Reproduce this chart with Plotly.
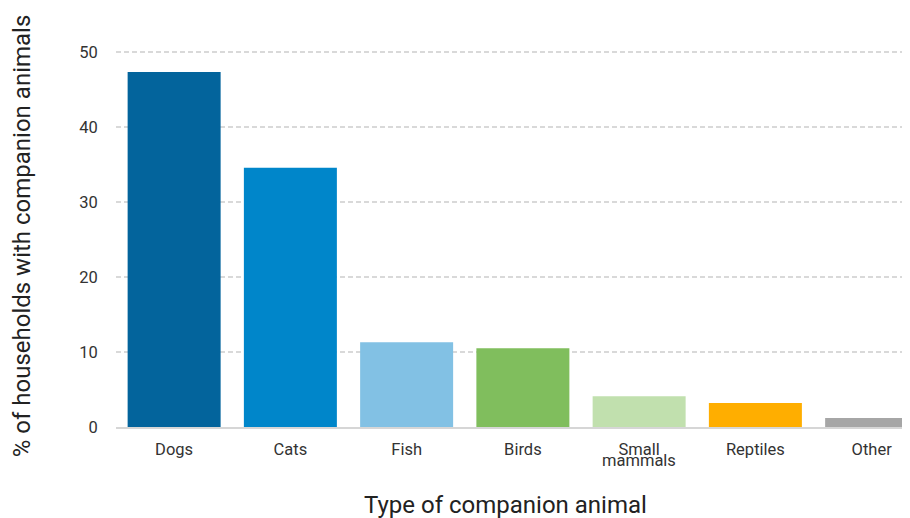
import plotly.graph_objects as go

categories = ["Dogs", "Cats", "Fish", "Birds", "Small mammals", "Reptiles", "Other"]
values = [47.4, 34.6, 11.3, 10.5, 4.1, 3.2, 1.2]
colors = ["#03649C", "#0086CA", "#82C1E4", "#80BE5D", "#C1E0AE", "#FFAE00", "#A6A6A6"]
y_ticks = [0, 10, 20, 30, 40, 50]
x_title = "Type of companion animal"
y_title = "% of households with companion animals"

# first line of each label on the axis, remaining line as annotation
first_lines = []
second_lines = []
for c in categories:
    if c == "Small mammals":
        a, b = c.split(" ", 1)
        first_lines.append(a)
        second_lines.append(b)
    else:
        first_lines.append(c)
        second_lines.append("")

fig = go.Figure()
fig.add_trace(go.Bar(
    x=list(range(len(categories))),
    y=values,
    marker=dict(color=colors, line=dict(width=0)),
    hovertext=categories,
    showlegend=False,
))

annotations = []
for i, t in enumerate(second_lines):
    if t:
        annotations.append(dict(
            x=i, xref="x", y=0, yref="y", yanchor="top",
            text=t, showarrow=False, yshift=-22,
            font=dict(family="Roboto", size=16.5, color="#333333"),
        ))
annotations.append(dict(
    x=0.491, xref="paper", y=0, yref="paper", xanchor="center", yanchor="middle",
    text=x_title, showarrow=False, yshift=-78,
    font=dict(family="Roboto", size=24, color="#222222"),
))

fig.update_layout(
    width=902, height=510,
    margin=dict(l=108, r=0, t=37, b=91),
    plot_bgcolor="white", paper_bgcolor="white",
    font=dict(family="Roboto", color="#333333"),
    bargap=0.2,
    annotations=annotations,
    xaxis=dict(
        automargin=False,
        tickmode="array",
        tickvals=list(range(len(categories))),
        ticktext=first_lines,
        range=[-0.5, 6.33],
        showgrid=False,
        showline=True, linecolor="#D6D6D6", linewidth=2,
        ticks="outside", ticklen=6, tickcolor="rgba(0,0,0,0)",
        tickfont=dict(family="Roboto", size=16.5, color="#333333"),
        zeroline=False,
    ),
    yaxis=dict(
        automargin=False,
        range=[0, 51],
        tickvals=y_ticks,
        showgrid=True, gridcolor="#D9D9D9", griddash="5px,3px", gridwidth=1.5,
        zeroline=False, showline=False,
        ticks="outside", ticklen=14, tickcolor="rgba(0,0,0,0)",
        tickfont=dict(family="Roboto", size=16.5, color="#333333"),
        title=dict(text=y_title, standoff=50,
                   font=dict(family="Roboto", size=24, color="#222222")),
    ),
)

fig.write_html("out.html")
